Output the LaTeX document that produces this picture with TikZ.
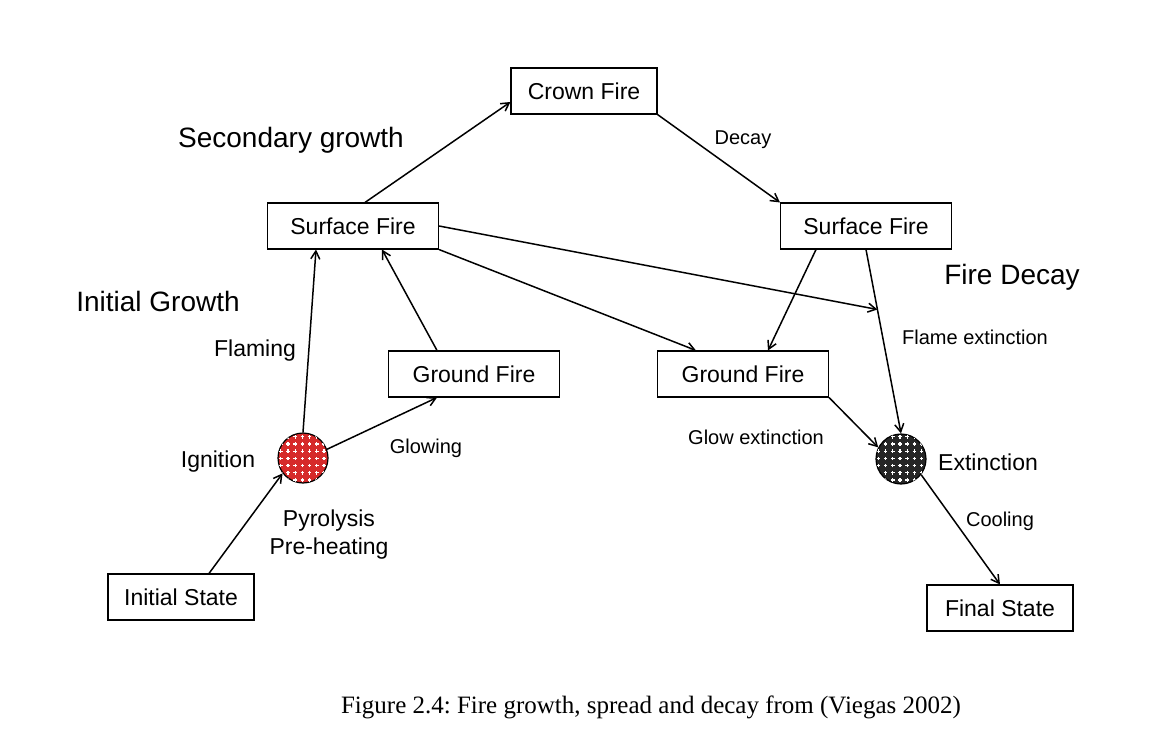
\documentclass[tikz,border=0pt]{standalone}
\usepackage{fontspec}
\setmainfont{Liberation Sans}
\newfontfamily\capfont{Liberation Serif}
\usetikzlibrary{arrows.meta,calc,patterns}
\frenchspacing
\definecolor{firered}{RGB}{214,42,42}
\definecolor{ashgrey}{RGB}{38,38,38}
\pgfdeclarepatternformonly{pluses}{\pgfpoint{-1pt}{-1pt}}{\pgfpoint{1pt}{1pt}}{\pgfpoint{3.6pt}{3.6pt}}{
  \pgfsetlinewidth{0.55pt}
  \pgfpathmoveto{\pgfpoint{-0.9pt}{0pt}}\pgfpathlineto{\pgfpoint{0.9pt}{0pt}}
  \pgfpathmoveto{\pgfpoint{0pt}{-0.9pt}}\pgfpathlineto{\pgfpoint{0pt}{0.9pt}}
  \pgfusepath{stroke}}
\tikzset{
  box/.style={shape=rectangle,draw,line width=0.55pt,minimum width=85.5pt,minimum height=23pt,font=\fontsize{11.5}{13}\selectfont},
  smallbox/.style={box,minimum width=73pt},
  state/.style={shape=circle,draw,line width=0.6pt,minimum size=25pt,inner sep=0pt,postaction={pattern=pluses,pattern color=white}},
  big/.style={font=\fontsize{14}{16}\selectfont},
  mid/.style={font=\fontsize{11.5}{14}\selectfont},
  small/.style={font=\fontsize{10}{12}\selectfont},
  >={Straight Barb[length=4pt,width=4.5pt]}
}
\begin{document}
\begin{tikzpicture}[x=0.5pt,y=-0.5pt]
\useasboundingbox (0,0) rectangle (1176,732);
\node(crown) at (584,91)[smallbox]        {Crown Fire};
\node(surfL) at (353,226)[box]        {Surface Fire};
\node(surfR) at (866,226)[box]        {Surface Fire};
\node(gndL) at (474,374)[box]        {Ground Fire};
\node(gndR) at (743,374)[box]        {Ground Fire};
\node(init) at (181,597)[smallbox]        {Initial State};
\node(final) at (1000,608)[smallbox]        {Final State};
\node(ign) at (303,458)[state,fill=firered]        {};
\node(ext) at (901,459)[state,fill=ashgrey]        {};
\coordinate(meet) at ($(surfR.south)!0.326!(ext.north)$);

\node(secgrowth) at (291,140)[big]        {Secondary growth};
\node(initgrowth) at (158,301)[big]        {Initial Growth};
\node(decay) at (1012,277)[big]        {Fire Decay};
\node(flaming) at (255,351)[mid]        {Flaming};
\node(ignition) at (218,462)[mid]        {Ignition};
\node(glowing) at (426,448)[small]        {Glowing};
\node(pyro) at (329,535)[mid,align=center]        {Pyrolysis\\Pre-heating};
\node(decaylbl) at (743,140)[small]        {Decay};
\node(flameext) at (975,337)[small]        {Flame extinction};
\node(glowext) at (756,437)[small]        {Glow extinction};
\node(extlbl) at (988,462)[mid]        {Extinction};
\node(cooling) at (1000,521)[small]        {Cooling};
\node(caption) at (651,707)[font=\capfont\fontsize{12.5}{15}\selectfont]        {Figure 2.4: Fire growth, spread and decay from (Viegas 2002)};

\path [->,line width=0.75pt]
  ([xshift=14pt]init.north)      edge                 (ign.217)
  (ign.north)      edge                 ([xshift=-18.5pt]surfL.south)
  (ign.20)      edge                 ([xshift=-18.5pt]gndL.south)
  ([xshift=-18.5pt]gndL.north)      edge                 ([xshift=14.5pt]surfL.south)
  ([xshift=6pt]surfL.north)      edge                 ([yshift=-5.5pt]crown.west)
  (crown.south east)      edge                 (surfR.north west)
  (surfL.east)      edge                 (meet)
  (surfL.south east)      edge                 ([xshift=-23.5pt]gndR.north)
  ([xshift=-25pt]surfR.south)      edge                 ([xshift=12.5pt]gndR.north)
  (surfR.south)      edge                 (ext.north)
  (gndR.south east)      edge                 (ext.153)
  (ext.322)      edge                 (final.north);
\end{tikzpicture}
\end{document}
